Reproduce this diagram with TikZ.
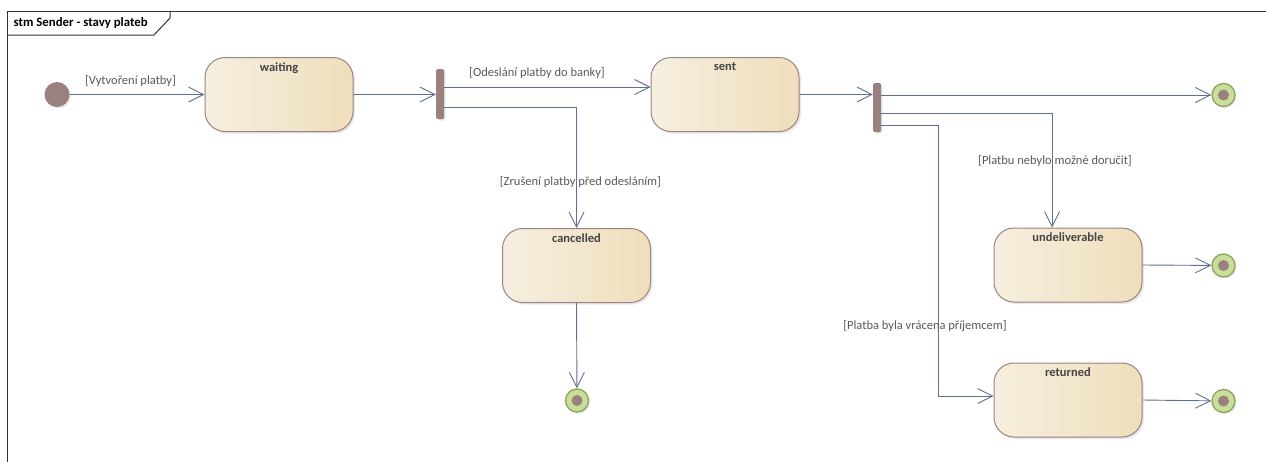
\documentclass[tikz,border=0pt]{standalone}
\usepackage{fontspec}
\setmainfont{Carlito}
\usetikzlibrary{arrows.meta,shadows}
\definecolor{stL}{HTML}{F6EFE0}
\definecolor{stR}{HTML}{EEDEBB}
\definecolor{stB}{HTML}{9C8282}
\definecolor{mauve}{HTML}{9B8080}
\definecolor{finG}{HTML}{C7DF98}
\definecolor{finB}{HTML}{8CA35E}
\definecolor{conn}{HTML}{5F6F90}
\definecolor{lbl}{HTML}{595959}
\definecolor{ttl}{HTML}{444444}
\tikzset{
  statebox/.style={draw=stB, line width=1pt, rounded corners=20pt, left color=stL, right color=stR,
    minimum width=148pt, minimum height=74pt, inner sep=0pt,
    drop shadow={shadow xshift=2pt, shadow yshift=-2pt, opacity=0.18}},
  stitle/.style={font=\fontsize{12.5}{14}\selectfont\bfseries, text=ttl},
  initst/.style={circle, fill=mauve, minimum size=25pt, inner sep=0pt,
    drop shadow={shadow xshift=1.5pt, shadow yshift=-1.5pt, opacity=0.18}},
  finst/.style={circle, draw=finB, line width=1.3pt, fill=finG, minimum size=23pt, inner sep=0pt,
    path picture={\fill[mauve] (path picture bounding box.center) circle (5.5pt);},
    drop shadow={shadow xshift=1.5pt, shadow yshift=-1.5pt, opacity=0.18}},
  forkbar/.style={rectangle, rounded corners=1.5pt, fill=mauve, minimum width=8pt, inner sep=0pt,
    drop shadow={shadow xshift=1.5pt, shadow yshift=-1.5pt, opacity=0.18}},
  conn/.style={draw=conn, line width=0.9pt, -{Straight Barb[length=15pt,width=15pt,line width=0.9pt]}},
  glabel/.style={font=\fontsize{12.5}{14}\selectfont, text=lbl, inner sep=1pt},
}
\begin{document}
\begin{tikzpicture}[x=1pt,y=-1pt]
\useasboundingbox (0,0) rectangle (1266,461);
% frame
\draw[line width=1pt, black!80] (7.5,470) -- (7.5,11.5) -- (1275,11.5);
\draw[line width=1pt, black!80] (7.5,35) -- (154,35) -- (170,18) -- (170,11.5);
\node[anchor=west, font=\fontsize{12.8}{14}\selectfont\bfseries, inner sep=0pt] (frametitle) at (13.5,23.5) {stm Sender - stavy plateb};

% nodes
\node[initst] (init) at (57,94.5) {};
\node[statebox, label={[stitle, anchor=north, yshift=-2pt]north:waiting}] (waiting) at (279,94.5) {};
\node[forkbar, minimum height=50pt] (fork1) at (440,94) {};
\node[statebox, label={[stitle, anchor=north, yshift=-2pt]north:sent}] (sent) at (725,94.5) {};
\node[statebox, label={[stitle, anchor=north, yshift=-2pt]north:cancelled}] (cancelled) at (576.5,265.5) {};
\node[finst] (fc) at (577,400.5) {};
\node[forkbar, minimum height=49pt] (fork2) at (877,107.5) {};
\node[finst] (f1) at (1223.5,95) {};
\node[statebox, label={[stitle, anchor=north, yshift=-2pt]north:undeliverable}] (undel) at (1068,265) {};
\node[finst] (f2) at (1223.5,265.5) {};
\node[statebox, label={[stitle, anchor=north, yshift=-2pt]north:returned}] (ret) at (1068,400) {};
\node[finst] (f3) at (1223.5,401) {};

% connectors
\draw[conn] (init) -- (waiting.west);
\draw[conn] (waiting.east) -- (fork1.west |- waiting.east);
\draw[conn] ([yshift=7pt]fork1.east) -- ([yshift=7.5pt]sent.west);
\draw[conn] ([yshift=-13pt]fork1.east) -| (cancelled.north);
\draw[conn] (cancelled.south) -- (fc);
\draw[conn] (sent.east) -- (fork2.west |- sent.east);
\draw[conn] (fork2.east |- f1) -- (f1);
\draw[conn] ([yshift=-5.5pt]fork2.east) -| ([xshift=-16pt]undel.north);
\draw[conn] ([yshift=-17.5pt]fork2.east) -| ([xshift=-55pt,yshift=4pt]ret.west) -- ([yshift=4pt]ret.west);
\draw[conn] (undel.east) -- (f2);
\draw[conn] (ret.east) -- (f3);

% labels
\node[glabel] (l1) at (130.5,81) {[Vytvoření platby]};
\node[glabel] (l2) at (537,72.5) {[Odeslání platby do banky]};
\node[glabel] (l3) at (580.5,182) {[Zrušení platby před odesláním]};
\node[glabel] (l4) at (1055,161) {[Platbu nebylo možné doručit]};
\node[glabel] (l5) at (925,326.5) {[Platba byla vrácena příjemcem]};
\end{tikzpicture}
\end{document}
